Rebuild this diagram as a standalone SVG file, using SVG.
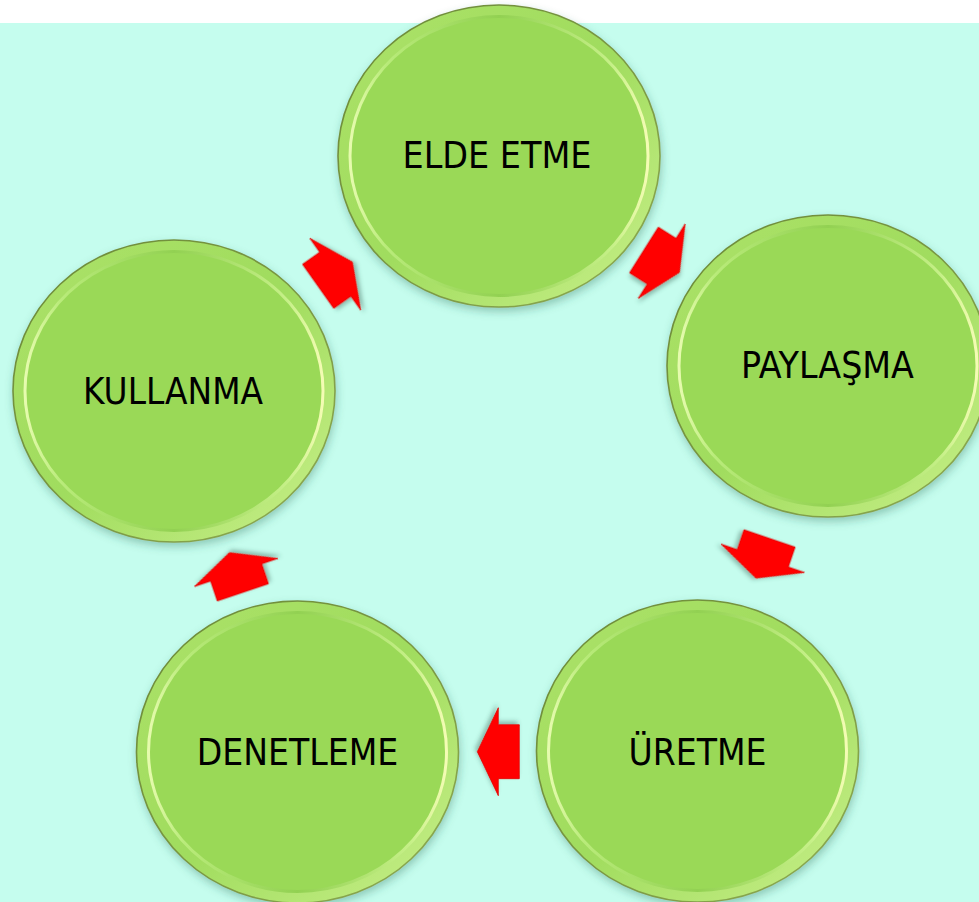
<svg xmlns="http://www.w3.org/2000/svg" xmlns:xlink="http://www.w3.org/1999/xlink" width="979" height="902" viewBox="0 0 979 902">
  <style>
    .label { font-family: "DejaVu Sans Condensed", "DejaVu Sans", Tahoma, sans-serif; font-stretch: condensed; font-size: 37px; fill: #000; text-anchor: middle; }
    .arrow { fill: #ff0000; stroke: #e00000; stroke-width: 0.8; stroke-linejoin: miter; filter: url(#arrowShadow); }
  </style>
  <defs>
    <filter id="discShadow" x="-10%" y="-10%" width="120%" height="125%">
      <feDropShadow dx="1" dy="4" stdDeviation="4" flood-color="#2f6a55" flood-opacity="0.35"/>
    </filter>
    <filter id="arrowShadow" x="-30%" y="-30%" width="160%" height="160%">
      <feDropShadow dx="2" dy="3" stdDeviation="2" flood-color="#2f5a4a" flood-opacity="0.4"/>
    </filter>
    <linearGradient id="rimFill" x1="0" y1="0" x2="1" y2="1">
      <stop offset="0" stop-color="#acE269"/>
      <stop offset="0.5" stop-color="#a0dc5e"/>
      <stop offset="1" stop-color="#c9f08a"/>
    </linearGradient>
    <linearGradient id="rimEdge" x1="0" y1="0" x2="1" y2="1">
      <stop offset="0" stop-color="#6c8a38"/>
      <stop offset="0.6" stop-color="#7c9a44"/>
      <stop offset="1" stop-color="#8fae52"/>
    </linearGradient>
    <linearGradient id="bevel" x1="0" y1="0" x2="1" y2="0">
      <stop offset="0" stop-color="#e6fbae"/>
      <stop offset="0.12" stop-color="#b9eb7a"/>
      <stop offset="0.5" stop-color="#92d152"/>
      <stop offset="0.88" stop-color="#c6f088"/>
      <stop offset="1" stop-color="#f4fcb4"/>
    </linearGradient>
    <!-- one bevelled green disc, centred on the origin -->
    <g id="disc">
      <ellipse rx="161" ry="151" fill="url(#rimFill)" stroke="url(#rimEdge)" stroke-width="1.6" filter="url(#discShadow)"/>
      <ellipse rx="149" ry="139.5" fill="#9ad957" stroke="url(#bevel)" stroke-width="3"/>
    </g>
    <!-- block arrow pointing along +x, wing line on the origin -->
    <polygon id="cycleArrow" points="-21,-27 0,-27 0,-44 21,0 0,44 0,27 -21,27"/>
  </defs>

  <!-- backdrop -->
  <rect x="0" y="0" width="979" height="902" fill="#ffffff"/>
  <rect x="0" y="23" width="979" height="879" fill="#c5fdee"/>

  <g id="node-elde-etme">
    <use xlink:href="#disc" href="#disc" transform="translate(499,156)"/>
    <text class="label" x="497" y="168" textLength="189" lengthAdjust="spacingAndGlyphs">ELDE ETME</text>
  </g>
  <g id="node-paylasma">
    <use xlink:href="#disc" href="#disc" transform="translate(828,366)"/>
    <text class="label" x="827.4" y="378" textLength="173" lengthAdjust="spacingAndGlyphs">PAYLAŞMA</text>
  </g>
  <g id="node-uretme">
    <use xlink:href="#disc" href="#disc" transform="translate(697.5,751)"/>
    <text class="label" x="697.5" y="765" textLength="138" lengthAdjust="spacingAndGlyphs">ÜRETME</text>
  </g>
  <g id="node-denetleme">
    <use xlink:href="#disc" href="#disc" transform="translate(297.5,752)"/>
    <text class="label" x="297.5" y="765" textLength="201.5" lengthAdjust="spacingAndGlyphs">DENETLEME</text>
  </g>
  <g id="node-kullanma">
    <use xlink:href="#disc" href="#disc" transform="translate(174,391)"/>
    <text class="label" x="173" y="404" textLength="180" lengthAdjust="spacingAndGlyphs">KULLANMA</text>
  </g>

  <g id="connectors">
    <use class="arrow" xlink:href="#cycleArrow" href="#cycleArrow" transform="translate(661.7,261.2) rotate(32.2)"/>
    <use class="arrow" xlink:href="#cycleArrow" href="#cycleArrow" transform="translate(762.8,558.3) rotate(108.8)"/>
    <use class="arrow" xlink:href="#cycleArrow" href="#cycleArrow" transform="translate(498.3,751.7) rotate(180)"/>
    <use class="arrow" xlink:href="#cycleArrow" href="#cycleArrow" transform="translate(236.2,572.5) rotate(-108.6)"/>
    <use class="arrow" xlink:href="#cycleArrow" href="#cycleArrow" transform="translate(335.3,274.2) rotate(-35.3)"/>
  </g>
</svg>
